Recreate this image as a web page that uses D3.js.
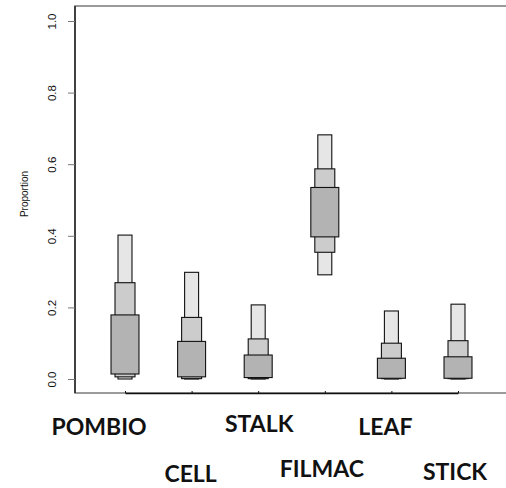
<!DOCTYPE html>
<html>
<head>
<meta charset="utf-8">
<script src="https://cdn.jsdelivr.net/npm/d3@7"></script>
<style>
  html, body { margin: 0; padding: 0; background: #fff; }
  svg { display: block; }
</style>
</head>
<body>
<div id="chart"></div>
<script>
// Nested interval plot: 95% / 80% / 50% ranges of proportion per category

const categories = ['POMBIO', 'CELL', 'STALK', 'FILMAC', 'LEAF', 'STICK'];
const ci95Lo = [0.000, 0.000, 0.000, 0.291, 0.000, 0.000];
const ci95Hi = [0.402, 0.298, 0.207, 0.682, 0.190, 0.209];
const ci80Lo = [0.006, 0.001, 0.001, 0.354, 0.001, 0.001];
const ci80Hi = [0.269, 0.172, 0.112, 0.587, 0.100, 0.107];
const ci50Lo = [0.014, 0.006, 0.004, 0.397, 0.002, 0.002];
const ci50Hi = [0.179, 0.105, 0.067, 0.535, 0.058, 0.062];
const yTicks = [0.0, 0.2, 0.4, 0.6, 0.8, 1.0];

// ── Layout ────────────────────────────────────────────────────────────────
const width = 506, height = 488;
const box = { left: 75, top: 6, right: 520, bottom: 393 };

const svg = d3.select('#chart').append('svg')
    .attr('width', width).attr('height', height);

// ── Scales ────────────────────────────────────────────────────────────────
const x = d3.scaleLinear().domain([1, 6]).range([125, 458]);
const y = d3.scaleLinear().domain([0, 1]).range([379, 21]);

// ── Interval boxes (light = widest range, drawn first) ─────────────────────
const levels = [
    { lo: ci95Lo, hi: ci95Hi, half: 0.105, fill: '#e6e6e6' },
    { lo: ci80Lo, hi: ci80Hi, half: 0.15,  fill: '#cccccc' },
    { lo: ci50Lo, hi: ci50Hi, half: 0.21,  fill: '#b3b3b3' }
];

levels.forEach(function (lv) {
    svg.append('g')
        .selectAll('rect')
        .data(categories.map((c, i) => ({ i: i + 1, lo: lv.lo[i], hi: lv.hi[i] })))
        .join('rect')
        .attr('x', d => x(d.i - lv.half))
        .attr('width', d => x(d.i + lv.half) - x(d.i - lv.half))
        .attr('y', d => y(d.hi))
        .attr('height', d => Math.max(0.5, y(d.lo) - y(d.hi)))
        .attr('fill', lv.fill)
        .attr('stroke', '#111')
        .attr('stroke-width', 1.1);
});

// ── Plot frame (grey) ─────────────────────────────────────────────────────
svg.append('rect')
    .attr('x', box.left).attr('y', box.top)
    .attr('width', box.right - box.left).attr('height', box.bottom - box.top)
    .attr('fill', 'none').attr('stroke', '#7a7a7a').attr('stroke-width', 1.5);

svg.append('line')
    .attr('x1', box.left).attr('x2', box.left)
    .attr('y1', box.top).attr('y2', box.bottom)
    .attr('stroke', '#111').attr('stroke-width', 1.3);

// ── Y axis ────────────────────────────────────────────────────────────────
const yAxis = svg.append('g')
    .attr('transform', 'translate(' + box.left + ',0)')
    .call(d3.axisLeft(y).tickValues(yTicks).tickFormat(d3.format('.1f'))
        .tickSize(7).tickPadding(9));
yAxis.select('.domain').remove();
yAxis.selectAll('.tick line').attr('stroke', '#777');
yAxis.selectAll('.tick text')
    .attr('transform', 'rotate(-90)')
    .attr('x', 0).attr('dy', 0)
    .attr('y', -19.5)
    .attr('text-anchor', 'middle')
    .style('font-family', '"Liberation Sans", Arial, sans-serif')
    .style('font-size', '11.5px')
    .attr('fill', '#111');

svg.append('text')
    .attr('transform', 'translate(28,194) rotate(-90)')
    .attr('text-anchor', 'middle')
    .style('font-family', '"Liberation Sans", Arial, sans-serif')
    .style('font-size', '10px')
    .attr('fill', '#111')
    .text('Proportion');

// ── X axis (line between first and last tick, tiny ticks) ─────────────────
const xAxis = svg.append('g')
    .attr('transform', 'translate(0,' + box.bottom + ')')
    .call(d3.axisBottom(x).tickValues(d3.range(1, categories.length + 1))
        .tickSize(-2).tickSizeOuter(0).tickFormat(''));
xAxis.select('.domain').attr('stroke', '#111').attr('stroke-width', 1.3);
xAxis.selectAll('.tick line').attr('stroke', '#111');

// ── Category labels (staggered) ───────────────────────────────────────────
const labelPos = [
    { dx: -26, y: 435 },
    { dx: -1,  y: 482 },
    { dx: 1,   y: 432 },
    { dx: -3,  y: 477 },
    { dx: -6,  y: 435 },
    { dx: -3,  y: 480 }
];

svg.append('g')
    .selectAll('text')
    .data(categories)
    .join('text')
    .attr('x', (d, i) => x(i + 1) + labelPos[i].dx)
    .attr('y', (d, i) => labelPos[i].y)
    .attr('text-anchor', 'middle')
    .style('font-family', 'Lato, "Open Sans", sans-serif')
    .style('font-weight', '700')
    .style('font-size', '23px')
    .attr('fill', '#111')
    .text(d => d);
</script>
</body>
</html>
